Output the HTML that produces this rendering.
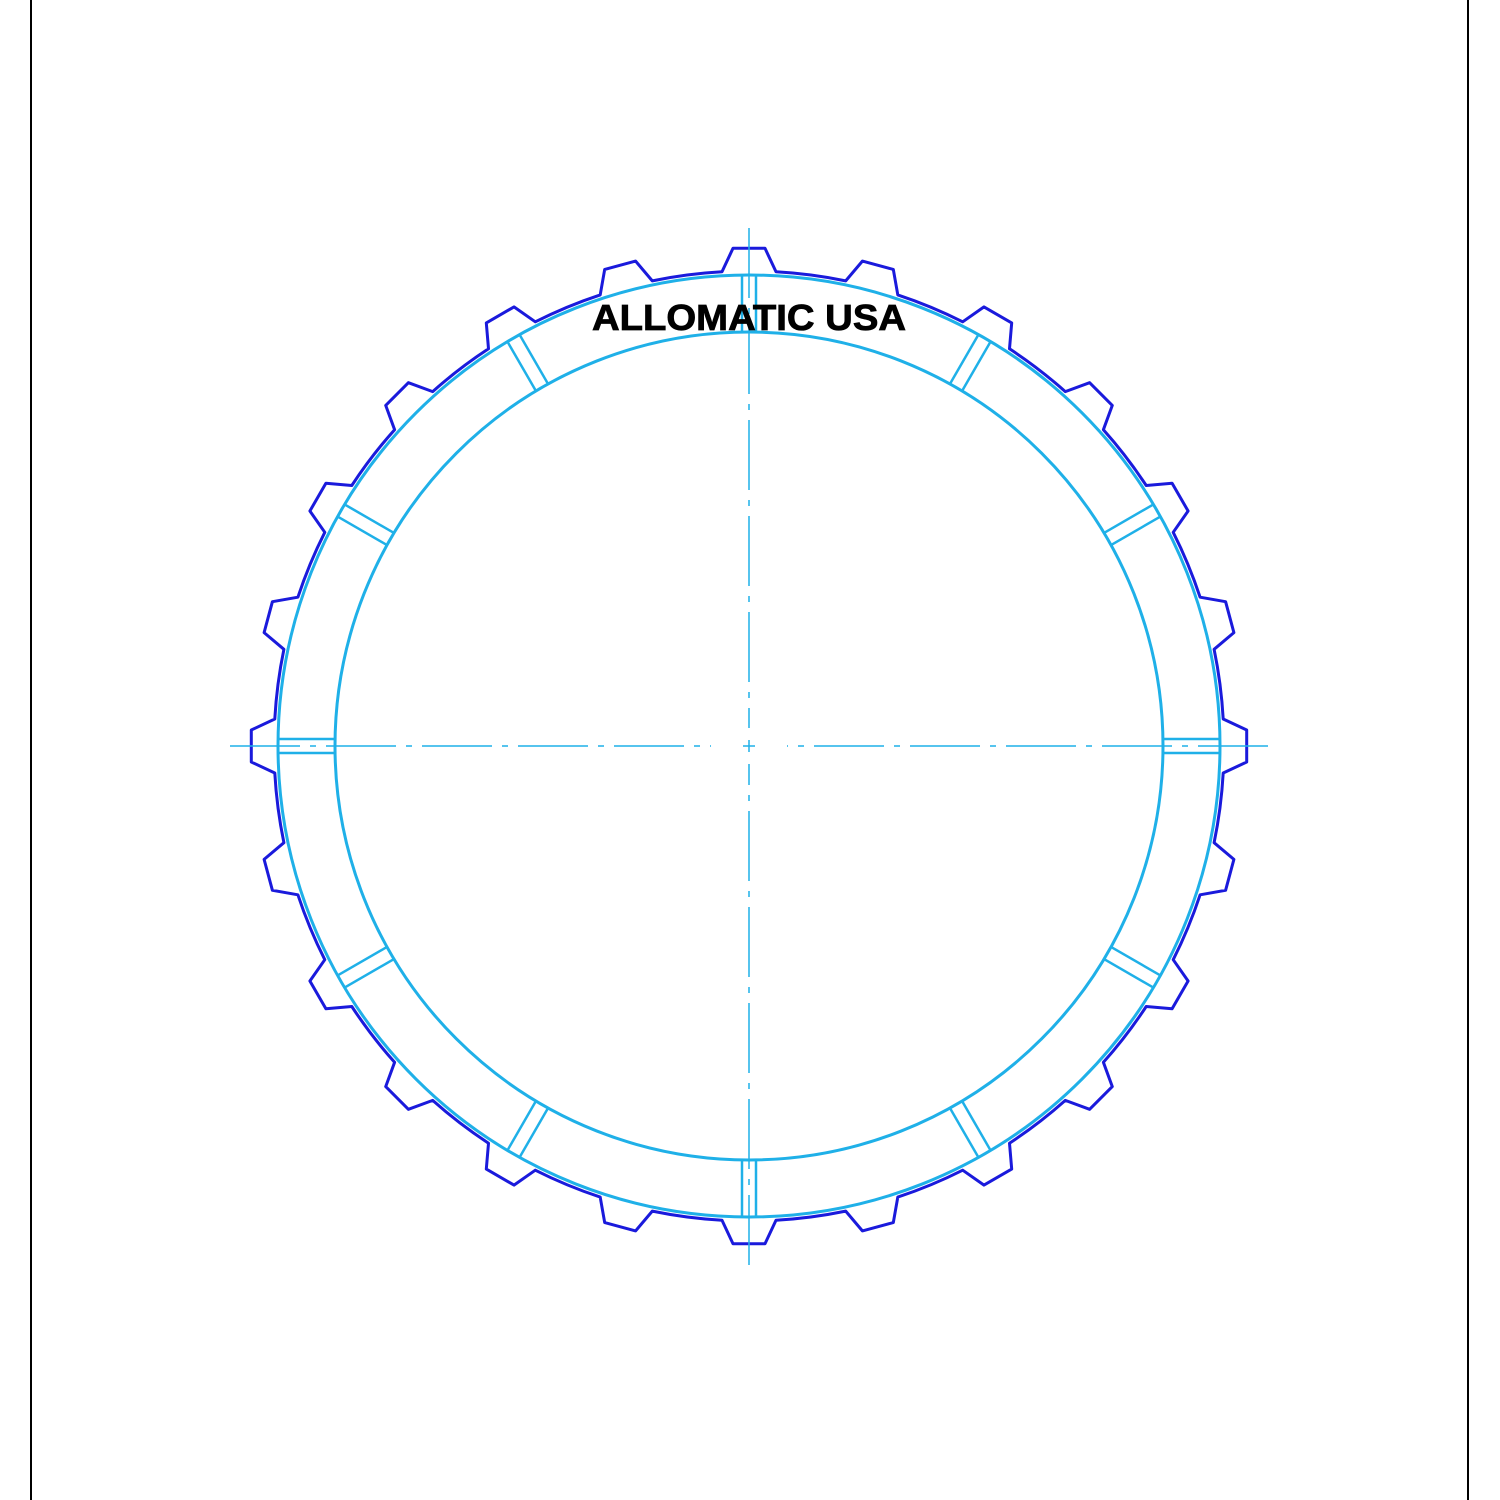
<!DOCTYPE html>
<html><head><meta charset="utf-8"><style>
html,body{margin:0;padding:0;background:#fff;width:1500px;height:1500px;overflow:hidden}
svg{display:block}
</style></head><body>
<svg id="drw" width="1500" height="1500" viewBox="0 0 1500 1500" xmlns="http://www.w3.org/2000/svg">
<line x1="31" y1="0" x2="31" y2="1500" stroke="#000" stroke-width="2"/>
<line x1="1468" y1="0" x2="1468" y2="1500" stroke="#000" stroke-width="2"/>
<g id="g"></g>
<text x="592" y="330" textLength="314" lengthAdjust="spacingAndGlyphs" font-family="Liberation Sans, Arial, sans-serif" font-weight="bold" font-size="36" fill="#000" stroke="#000" stroke-width="0.8">ALLOMATIC USA</text>
</svg>
<script>
const toothCount = [24];
const segmentCount = [12];
const radii = {base:475, tip:498, ringOuter:471, ringInner:414};
const cx = 749, cy = 746;
const NS = "http://www.w3.org/2000/svg";
const g = document.getElementById('g');
function mk(tag, attrs){const e=document.createElementNS(NS,tag);for(const k in attrs)e.setAttribute(k,attrs[k]);g.appendChild(e);return e;}
function pt(r,a){return [cx+r*Math.sin(a), cy-r*Math.cos(a)];}
let d="";
const n=toothCount[0];
for(let i=0;i<n;i++){
  const a=i*2*Math.PI/n;
  const hb=27/radii.base, ht=16/radii.tip;
  const p1=pt(radii.base,a-hb), p2=pt(radii.tip,a-ht), p3=pt(radii.tip,a+ht), p4=pt(radii.base,a+hb);
  d+=(i==0?"M":"L")+p1[0].toFixed(1)+","+p1[1].toFixed(1)+" L"+p2[0].toFixed(1)+","+p2[1].toFixed(1)+" L"+p3[0].toFixed(1)+","+p3[1].toFixed(1)+" L"+p4[0].toFixed(1)+","+p4[1].toFixed(1)+" ";
  const na=(i+1)*2*Math.PI/n - hb;
  const p5=pt(radii.base,na);
  d+="A"+radii.base+","+radii.base+" 0 0 1 "+p5[0].toFixed(1)+","+p5[1].toFixed(1)+" ";
}
d+="Z";
const prof=mk('path',{d:d,fill:'none',stroke:'#1a1adc','stroke-width':3,'stroke-linejoin':'round'});


const c1=mk('circle',{cx:cx,cy:cy,r:radii.ringOuter,fill:'none',stroke:'#1fb0e8','stroke-width':3});


const c2=mk('circle',{cx:cx,cy:cy,r:radii.ringInner,fill:'none',stroke:'#1fb0e8','stroke-width':3});


const m=segmentCount[0];
for(let i=0;i<m;i++){
  const a=i*2*Math.PI/m;
  for(const off of [-7,7]){
    const ox=off*Math.cos(a), oy=off*Math.sin(a);
    const a1=pt(radii.ringInner,a), a2=pt(radii.ringOuter,a);
    const l=mk('line',{x1:a1[0]+ox,y1:a1[1]+oy,x2:a2[0]+ox,y2:a2[1]+oy,stroke:'#1fb0e8','stroke-width':2.5});
    
    
  }
}
const dash="70 10 6 10";
const v1=mk('line',{x1:cx,y1:228,x2:cx,y2:728,stroke:'#1fb0e8','stroke-width':1.5,'stroke-dasharray':dash});


const v2=mk('line',{x1:cx,y1:1265,x2:cx,y2:764,stroke:'#1fb0e8','stroke-width':1.5,'stroke-dasharray':dash});


const h1=mk('line',{x1:230,y1:cy,x2:711,y2:cy,stroke:'#1fb0e8','stroke-width':1.5,'stroke-dasharray':dash});


const h2=mk('line',{x1:1268,y1:cy,x2:787,y2:cy,stroke:'#1fb0e8','stroke-width':1.5,'stroke-dasharray':dash});


const ch=mk('line',{x1:cx-6,y1:cy,x2:cx+6,y2:cy,stroke:'#1fb0e8','stroke-width':1.5});


const cv=mk('line',{x1:cx,y1:cy-6,x2:cx,y2:cy+6,stroke:'#1fb0e8','stroke-width':1.5});


</script>
</body></html>
